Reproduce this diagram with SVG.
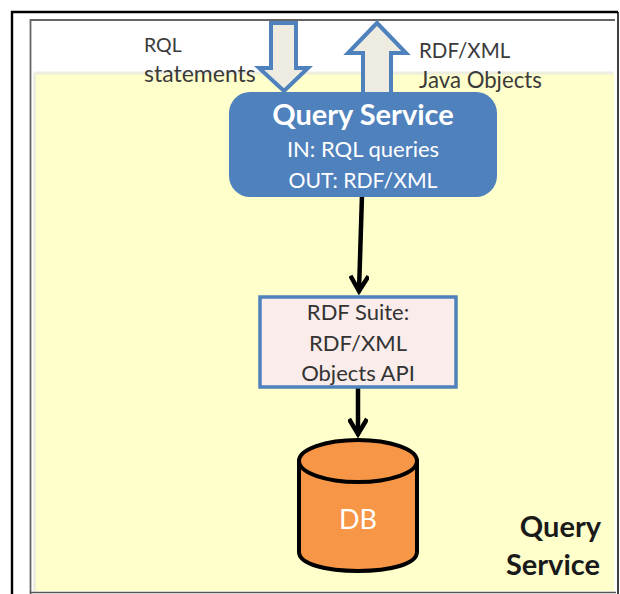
<svg xmlns="http://www.w3.org/2000/svg" width="620" height="594" viewBox="0 0 620 594">
<style>
text{font-family:Lato,"Open Sans",sans-serif;text-anchor:middle}
.lbl{fill:#3a3a3a;text-anchor:start}
.dk{fill:#333;font-size:22px}
.wh{fill:#fff}
.blk{fill:#1a1a1a;font-size:29px;font-weight:700;text-anchor:end}
.arw{fill:#eeece1;stroke:#4f81bd;stroke-width:4;stroke-linejoin:miter}
.con{fill:none;stroke:#000;stroke-width:4.5;stroke-linecap:round}
</style>
<defs>
<marker id="open" markerUnits="userSpaceOnUse" markerWidth="24" markerHeight="20" refX="20" refY="10" orient="auto">
<path d="M5 1L20 10L5 19" fill="none" stroke="#000" stroke-width="4.5"/>
</marker>
</defs>
<rect width="620" height="594" fill="#fff"/>
<g id="frame">
<path d="M12 594V12H618" fill="none" stroke="#000" stroke-width="2.400"/>
<path d="M618 12V594" stroke="#000" stroke-width="1.500"/>
<path d="M30.500 594V20H615" fill="none" stroke="#666" stroke-width="1.800"/>
<path d="M30 592.500H616" stroke="#555" stroke-width="1.500"/>
<rect x="34" y="73" width="580" height="518" fill="#ffffcc"/>
<path d="M34 73H613" stroke="#eeeee0" stroke-width="3"/>
<path d="M34.500 73V591" stroke="#eeeee0" stroke-width="3"/>
</g>
<g id="rql-label"><text class="lbl" x="144" y="52" font-size="19.500">RQL</text><text class="lbl" x="144" y="82" font-size="23">statements</text></g>
<g id="rdfxml-label"><text class="lbl" x="419" y="58" font-size="20.500">RDF/XML</text><text class="lbl" x="419" y="88" font-size="22.200">Java Objects</text></g>
<g id="arrow-in"><path class="arw" d="M271 23H296V68H308L284 91L259 68H271Z"/></g>
<g id="arrow-out"><path class="arw" d="M363 92V53H348L377 23L406 53H391V92"/></g>
<g id="connectors">
<path class="con" d="M362 195L359 291" marker-end="url(#open)"/>
<path class="con" d="M358 388V434" marker-end="url(#open)"/>
</g>
<g id="query-service"><rect x="229" y="92" width="268" height="105" rx="21" fill="#4f81bd"/>
<text class="wh" x="363" y="125" font-size="29" font-weight="700">Query Service</text>
<text class="wh" x="363" y="157" font-size="22">IN: RQL queries</text>
<text class="wh" x="363" y="188" font-size="21.200">OUT: RDF/XML</text></g>
<g id="rdf-suite"><rect x="260" y="297" width="196" height="90" fill="#f9ecea" stroke="#4f81bd" stroke-width="3.500"/>
<text class="dk" x="358" y="320">RDF Suite:</text>
<text class="dk" x="358" y="351">RDF/XML</text>
<text class="dk" x="358" y="381">Objects API</text></g>
<g id="db"><path d="M299 461V552C299 564 326 571 358 571S417 564 417 552V461Z" fill="#f79646" stroke="#000" stroke-width="4"/>
<ellipse cx="358" cy="461" rx="59" ry="21" fill="#f79646" stroke="#000" stroke-width="4"/>
<text class="wh" x="358" y="529" font-size="27">DB</text></g>
<g id="caption"><text class="blk" x="601" y="537">Query</text><text class="blk" x="600" y="575">Service</text></g>
</svg>
